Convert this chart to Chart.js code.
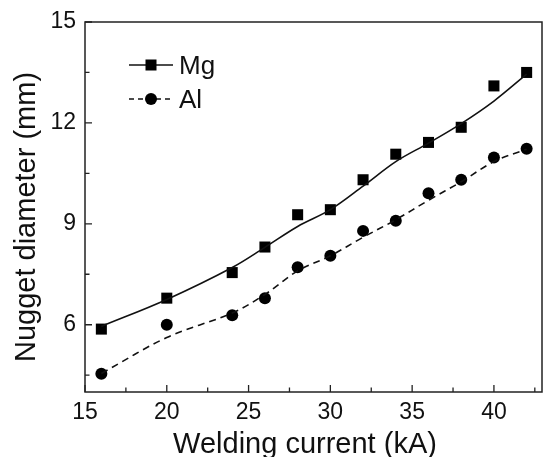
<!DOCTYPE html>
<html>
<head>
<meta charset="utf-8">
<script src="https://cdn.jsdelivr.net/npm/chart.js@4.4.0/dist/chart.umd.min.js"></script>
<style>
  html, body { margin: 0; padding: 0; background: #fff; }
  #wrap { width: 543px; height: 457px; }
</style>
</head>
<body>
<div id="wrap"><canvas id="c" width="543" height="457"></canvas></div>
<script>
// ---- data ----
const currents = [16, 20, 24, 26, 28, 30, 32, 34, 36, 38, 40, 42];
const mgMeasured = [5.87, 6.79, 7.55, 8.31, 9.27, 9.42, 10.31, 11.07, 11.42, 11.87, 13.10, 13.50];
const alMeasured = [4.54, 6.00, 6.28, 6.79, 7.71, 8.05, 8.79, 9.09, 9.91, 10.31, 10.97, 11.23];
const mgFit = [5.95, 6.75, 7.70, 8.30, 8.92, 9.42, 10.12, 10.85, 11.40, 11.98, 12.65, 13.45];
const alFit = [4.55, 5.62, 6.35, 6.90, 7.60, 8.05, 8.60, 9.12, 9.70, 10.25, 10.85, 11.22];
const seriesNames = ['Mg', 'Al'];
const xTicks = [15, 20, 25, 30, 35, 40];
const xMinorTicks = [17.5, 22.5, 27.5, 32.5, 37.5, 42.5];
const yTicks = [6, 9, 12, 15];
const yMinorTicks = [4.5, 7.5, 10.5, 13.5];
const xTitle = 'Welding current (kA)';
const yTitle = 'Nugget diameter (mm)';

const toXY = (xs, ys) => xs.map((x, i) => ({ x: x, y: ys[i] }));
const FONT = '"Liberation Sans", Arial, sans-serif';

const framePlugin = {
  id: 'frame',
  afterDraw(chart) {
    const { ctx, chartArea: a, scales } = chart;
    const xs = scales.x, ys = scales.y;
    ctx.save();
    ctx.strokeStyle = '#222';
    ctx.lineWidth = 1.5;
    ctx.strokeRect(a.left, a.top, a.right - a.left - 1, a.bottom - a.top);
    ctx.lineWidth = 1.3;
    ctx.beginPath();
    const tick = (vals, len) => {
      vals.forEach(v => {
        const px = xs.getPixelForValue(v);
        ctx.moveTo(px, a.bottom); ctx.lineTo(px, a.bottom - len);
      });
    };
    tick(xTicks, 7); tick(xMinorTicks, 4.5);
    const ytick = (vals, len) => {
      vals.forEach(v => {
        const py = ys.getPixelForValue(v);
        ctx.moveTo(a.left, py); ctx.lineTo(a.left + len, py);
      });
    };
    ytick(yTicks, 7); ytick(yMinorTicks, 4.5);
    ctx.stroke();

    // axis titles
    ctx.fillStyle = '#111';
    ctx.font = '29px ' + FONT;
    ctx.textAlign = 'center';
    ctx.textBaseline = 'alphabetic';
    ctx.fillText(xTitle, 305, 453);
    ctx.save();
    ctx.translate(35, 217);
    ctx.rotate(-Math.PI / 2);
    ctx.fillText(yTitle, 0, 0);
    ctx.restore();

    // legend
    const rows = [
      { name: seriesNames[0], y: 65, dash: [], style: 'rect' },
      { name: seriesNames[1], y: 99, dash: [5, 4], style: 'circle' }
    ];
    rows.forEach(r => {
      ctx.strokeStyle = '#111';
      ctx.lineWidth = 1.5;
      ctx.setLineDash(r.dash);
      ctx.beginPath();
      ctx.moveTo(129, r.y); ctx.lineTo(173, r.y);
      ctx.stroke();
      ctx.setLineDash([]);
      ctx.fillStyle = '#000';
      if (r.style === 'rect') {
        ctx.fillRect(151 - 5.5, r.y - 5.5, 11, 11);
      } else {
        ctx.beginPath(); ctx.arc(151, r.y, 6, 0, Math.PI * 2); ctx.fill();
      }
      ctx.fillStyle = '#111';
      ctx.font = '26px ' + FONT;
      ctx.textAlign = 'left';
      ctx.textBaseline = 'alphabetic';
      ctx.fillText(r.name, 179, r.y + 9);
    });
    ctx.restore();
  }
};

new Chart(document.getElementById('c'), {
  type: 'scatter',
  data: {
    datasets: [
      { label: 'Mg fit', data: toXY(currents, mgFit), showLine: true, borderColor: '#111', borderWidth: 1.6,
        pointRadius: 0, tension: 0.35, fill: false },
      { label: 'Al fit', data: toXY(currents, alFit), showLine: true, borderColor: '#111', borderWidth: 1.6,
        borderDash: [7, 5], pointRadius: 0, tension: 0.35, fill: false },
      { label: seriesNames[0], data: toXY(currents, mgMeasured), showLine: false, pointStyle: 'rect',
        pointRadius: 7.8, backgroundColor: '#000', borderColor: '#000', borderWidth: 0 },
      { label: seriesNames[1], data: toXY(currents, alMeasured), showLine: false, pointStyle: 'circle',
        pointRadius: 6, backgroundColor: '#000', borderColor: '#000', borderWidth: 0 }
    ]
  },
  options: {
    responsive: false,
    devicePixelRatio: 1,
    animation: false,
    layout: { autoPadding: false, padding: { left: 0, right: 0, top: 22, bottom: 0 } },
    plugins: { legend: { display: false }, tooltip: { enabled: false } },
    scales: {
      x: {
        type: 'linear', min: 15, max: 43,
        afterBuildTicks: s => { s.ticks = xTicks.map(v => ({ value: v })); },
        afterFit: s => { s.height = 65; s.paddingLeft = 0; s.paddingRight = 0; },
        grid: { display: false, drawTicks: false },
        border: { display: false },
        ticks: { color: '#111', font: { family: FONT, size: 23 }, padding: 7, maxRotation: 0 },
        title: { display: false }
      },
      y: {
        type: 'linear', min: 4, max: 15,
        afterBuildTicks: s => { s.ticks = yTicks.map(v => ({ value: v })); },
        afterFit: s => { s.width = 85; s.paddingTop = 0; s.paddingBottom = 0; },
        grid: { display: false, drawTicks: false },
        border: { display: false },
        ticks: { color: '#111', font: { family: FONT, size: 23 }, padding: 9 },
        title: { display: false }
      }
    }
  },
  plugins: [framePlugin]
});
</script>
</body>
</html>
